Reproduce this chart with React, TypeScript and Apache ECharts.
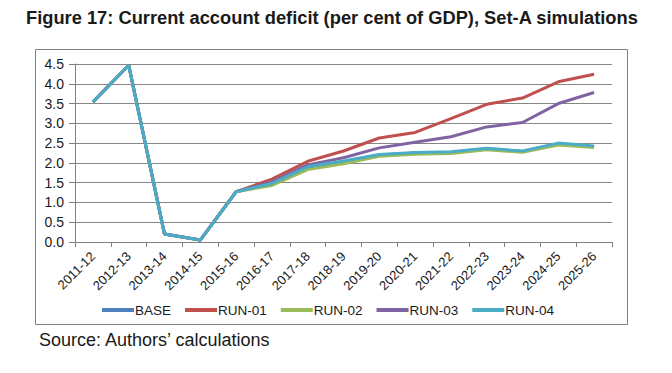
import React, { useEffect, useRef } from "react";
import * as echarts from "echarts";

const categories = [
  "2011-12", "2012-13", "2013-14", "2014-15", "2015-16", "2016-17", "2017-18", "2018-19",
  "2019-20", "2020-21", "2021-22", "2022-23", "2023-24", "2024-25", "2025-26",
];

const base = [3.54, 4.47, 0.2, 0.05, 1.27, 1.47, 1.88, 2.03, 2.2, 2.25, 2.27, 2.36, 2.29, 2.48, 2.41];
const run01 = [3.54, 4.47, 0.2, 0.05, 1.27, 1.59, 2.04, 2.3, 2.63, 2.77, 3.12, 3.48, 3.64, 4.05, 4.24];
const run02 = [3.54, 4.47, 0.2, 0.05, 1.27, 1.43, 1.83, 1.98, 2.17, 2.22, 2.24, 2.33, 2.27, 2.45, 2.39];
const run03 = [3.54, 4.47, 0.2, 0.05, 1.27, 1.52, 1.95, 2.13, 2.38, 2.52, 2.66, 2.91, 3.02, 3.5, 3.78];
const run04 = [3.54, 4.47, 0.2, 0.05, 1.27, 1.48, 1.9, 2.05, 2.21, 2.26, 2.28, 2.37, 2.3, 2.5, 2.43];

const seriesNames = ["BASE", "RUN-01", "RUN-02", "RUN-03", "RUN-04"];
const seriesData = [base, run01, run02, run03, run04];
const colors = ["#4F81BD", "#C0504D", "#9BBB59", "#8064A2", "#4BACC6"];

const FONT = "'Liberation Sans', Arial, sans-serif";

export default function App() {
  const ref = useRef<HTMLDivElement>(null);
  useEffect(() => {
    if (!ref.current) return;
    const chart = echarts.init(ref.current, null, { renderer: "svg" });
    chart.setOption({
      animation: false,
      backgroundColor: "#ffffff",
      title: [
        {
          text: "Figure 17: Current account deficit (per cent of GDP), Set-A simulations",
          left: 26,
          top: 8,
          padding: 0,
          textStyle: { fontFamily: FONT, fontWeight: "bold", fontSize: 18.3, color: "#1a1a1a" },
        },
        {
          text: "Source: Authors\u2019 calculations",
          left: 39,
          top: 331,
          padding: 0,
          textStyle: { fontFamily: FONT, fontWeight: "normal", fontSize: 18, color: "#1a1a1a" },
        },
      ],
      graphic: [
        {
          type: "rect",
          z: 100,
          silent: true,
          shape: { x: 35.5, y: 49.5, width: 592, height: 275 },
          style: { fill: "transparent", stroke: "#808080", lineWidth: 1 },
        },
      ],
      grid: { left: 75, right: 60, top: 64, bottom: 131 },
      legend: {
        data: seriesNames,
        left: 97,
        top: 298,
        icon: "rect",
        itemWidth: 32,
        itemHeight: 4,
        itemGap: 14,
        textStyle: { fontFamily: FONT, fontSize: 13.5, color: "#1a1a1a", padding: [0, 0, 0, -4] },
      },
      xAxis: {
        type: "category",
        data: categories,
        boundaryGap: true,
        axisLine: { lineStyle: { color: "#808080" } },
        axisTick: { show: true, length: 5, lineStyle: { color: "#808080" } },
        axisLabel: { rotate: 45, fontFamily: FONT, fontSize: 13, color: "#1a1a1a", margin: 12 },
      },
      yAxis: {
        type: "value",
        min: 0,
        max: 4.5,
        interval: 0.5,
        axisLine: { show: true, lineStyle: { color: "#808080" } },
        axisTick: { show: true, length: 6, lineStyle: { color: "#808080" } },
        splitLine: { lineStyle: { color: "#868686" } },
        axisLabel: {
          fontFamily: FONT,
          fontSize: 14,
          color: "#1a1a1a",
          margin: 11,
          formatter: (v: number) => v.toFixed(1),
        },
      },
      series: seriesNames.map((name, i) => ({
        name,
        type: "line",
        data: seriesData[i],
        symbol: "none",
        color: colors[i],
        lineStyle: { width: 3, color: colors[i] },
      })),
    });
    return () => chart.dispose();
  }, []);
  return (
    <div
      ref={ref}
      style={{ position: "fixed", left: 0, top: 0, width: 672, height: 373 }}
    />
  );
}
